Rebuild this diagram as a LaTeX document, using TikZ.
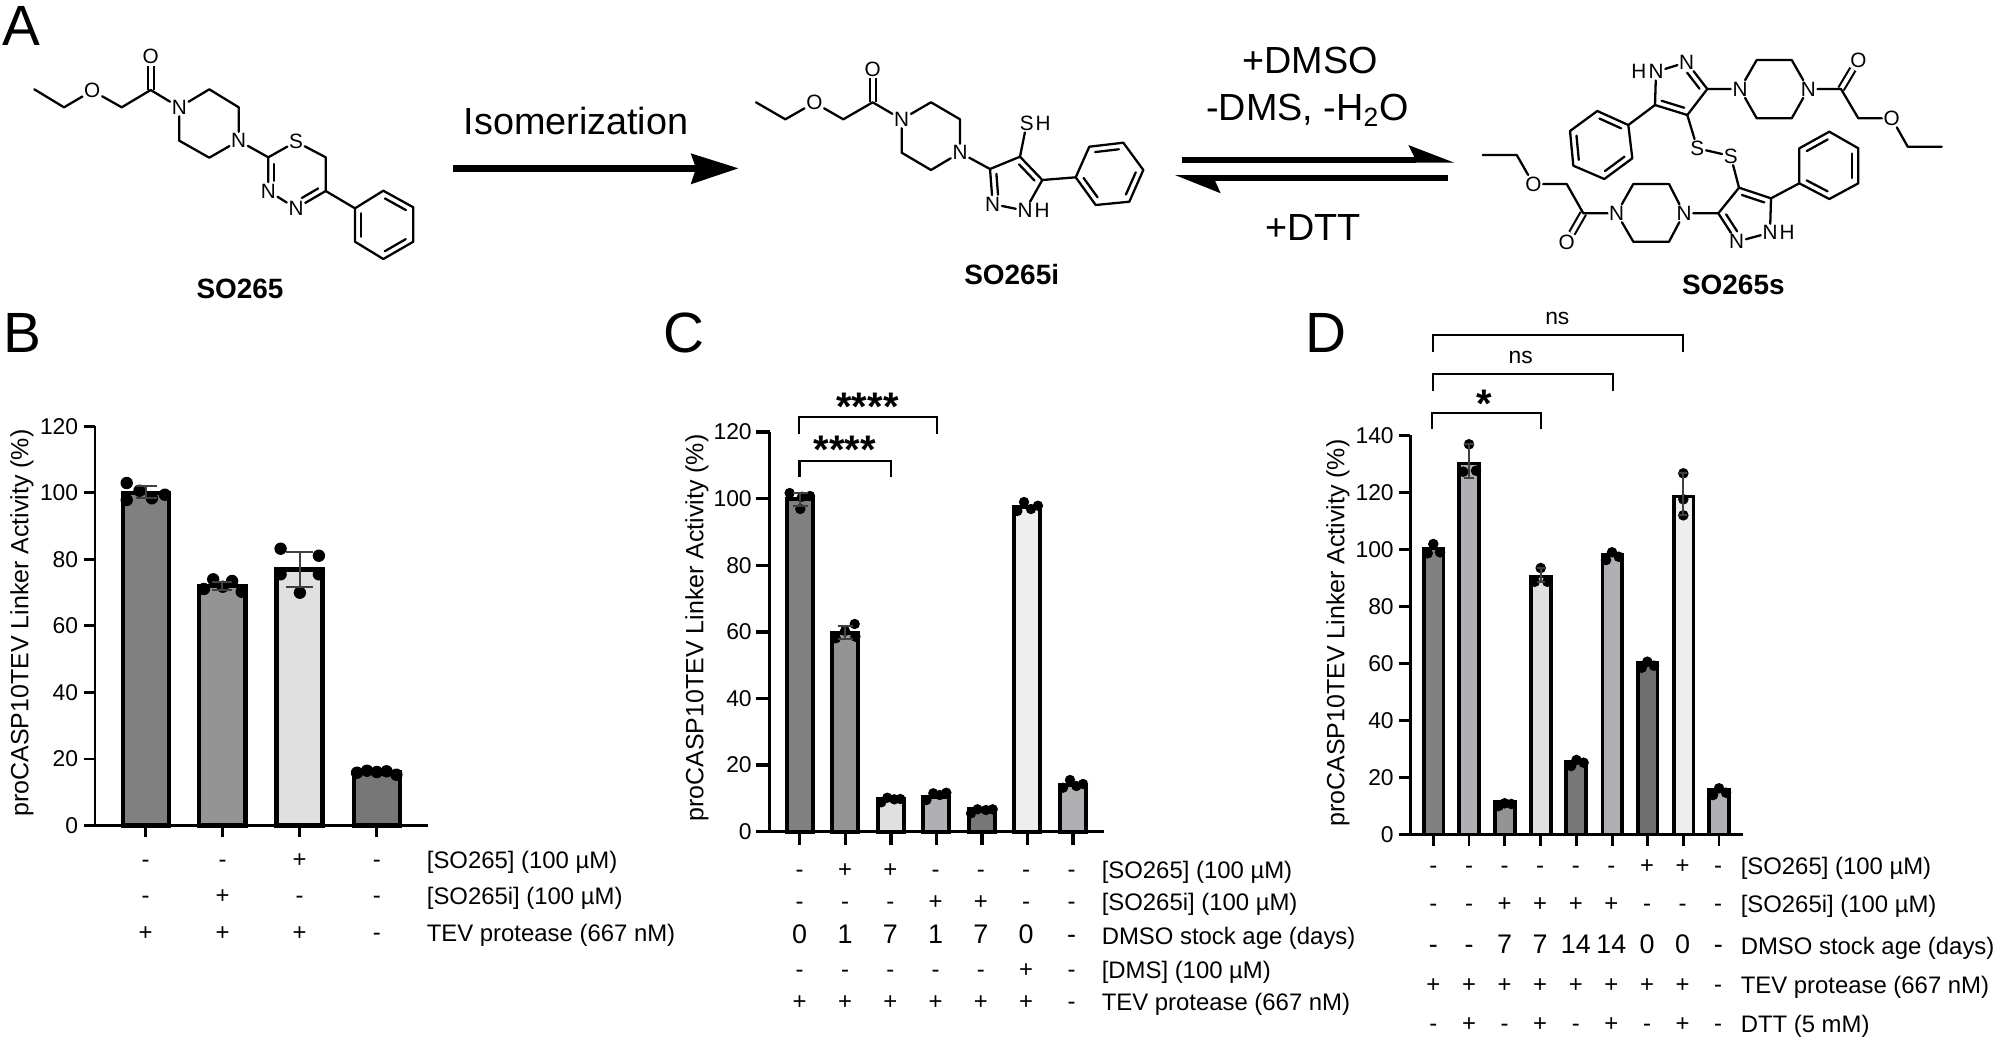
\documentclass[tikz,border=0pt]{standalone}
\usepackage{fontspec}
\setmainfont{Liberation Sans}
\usetikzlibrary{calc,positioning}
\definecolor{barA}{HTML}{808080}
\definecolor{barB}{HTML}{949494}
\definecolor{barC}{HTML}{E0E0E0}
\definecolor{barD}{HTML}{777777}
\definecolor{barE}{HTML}{B0B0B4}
\definecolor{barF}{HTML}{EEEEEE}
\definecolor{barG}{HTML}{6E6E6E}
\tikzset{
  panel/.style={anchor=base west,font=\fontsize{32.3}{36}\selectfont},
  rxn/.style={anchor=base,font=\fontsize{21.5}{25}\selectfont},
  cpd/.style={anchor=base,font=\fontsize{15.9}{18}\selectfont\bfseries},
  atom/.style={inner sep=0.8pt,font=\fontsize{11.8}{13}\selectfont},
  bond/.style={line width=1.3pt,line cap=round,line join=round},
  cobond/.style={line width=1.2pt,double,double distance=2.2pt},
  shaft/.style={line width=4pt},
  ticklab/.style={anchor=east,font=\fontsize{13}{15}\selectfont},
  ylab/.style={rotate=90,font=\fontsize{14.2}{16}\selectfont},
  rowlab/.style={anchor=base west,font=\fontsize{13.6}{16}\selectfont},
  cell/.style={anchor=base,font=\fontsize{13.6}{16}\selectfont},
  numcell/.style={anchor=base,font=\fontsize{15.3}{18}\selectfont},
  stars/.style={anchor=base,font=\fontsize{22.7}{26}\selectfont\bfseries},
  nslab/.style={font=\fontsize{13}{15}\selectfont},
  brack/.style={line width=1.3pt},
  errbar/.style={line width=1pt,black!75},
}
% double bond line on the left of #1 -> #2
\newcommand{\ringbond}[4]{\draw[bond] ($(#1)!#3!(#2)!1.2mm!90:(#2)$) -- ($(#2)!#4!(#1)!1.2mm!-90:(#1)$);}
\newcommand{\rowcells}[6]{\foreach \t [count=\i] in {#6} \node[#5] (#1\i) at ({#2+#3*(\i-1)},#4) {\t};}
\newcommand{\errmark}[4]{\draw[errbar] (#1,#2) -- (#1,#3) (#1-#4,#2) -- (#1+#4,#2) (#1-#4,#3) -- (#1+#4,#3);}
\begin{document}
\begin{tikzpicture}[x=0.02cm,y=0.02cm]
\tikzstyle{every node}+=[inner sep=0pt]
\useasboundingbox (0,0) rectangle (2000,-1042);
\node[panel] (pa) at (2,-45) {A};
\node[panel] (pb) at (3,-352) {B};
\node[panel] (pc) at (663,-352) {C};
\node[panel] (pd) at (1305,-352) {D};

% SO265
\foreach \n/\x/\y in {a1/34.3/-89.3,a2/64/-107.3,a4/121.7/-107.3,a5/150.7/-90,a8/209.3/-89.3,a9/238.7/-107.3,a11/209.3/-157.7,a12/179.3/-140.7,a13/268.3/-157.3,a15/325.7/-157.3,a16/325.7/-191,a19/355/-208.3,a20/383.3/-190.7,a21/413.3/-207.3,a22/413.3/-241.7,a23/383.3/-259,a24/355/-241.7}
  \coordinate (\n) at (\x,\y);
\foreach \n/\x/\y/\t in {a3/92.3/-90.7/O,a6/150.7/-56.7/O,a7/179.3/-107.3/N,a10/238.7/-140.7/N,a14/296/-141.7/S,a17/268.3/-191/N,a18/296/-208.3/N}
  \node[atom] (\n) at (\x,\y) {\t};
\draw[cobond] (a5) -- (a6);
\draw[bond] (a1) -- (a2) -- (a3) -- (a4) -- (a5) -- (a7) -- (a8) -- (a9) -- (a10) -- (a11) -- (a12) -- (a7);
\draw[bond] (a10) -- (a13) -- (a14) -- (a15) -- (a16) -- (a18) -- (a17) -- (a13);
\draw[bond] (a16) -- (a19) -- (a20) -- (a21) -- (a22) -- (a23) -- (a24) -- (a19);
\ringbond{a13}{a17}{0.2}{0.3}
\ringbond{a18}{a16}{0.3}{0.15}
\ringbond{a21}{a20}{0.15}{0.15}
\ringbond{a19}{a24}{0.15}{0.15}
\ringbond{a23}{a22}{0.15}{0.15}
\node[cpd] (so) at (240,-298) {SO265};

% isomerization arrow
\node[rxn] (iso) at (576,-134) {Isomerization};
\coordinate (isoa) at (453,-168.3);
\coordinate (isob) at (696,-168.3);
\draw[shaft] (isoa) -- (isob);
\fill (738.3,-168.3) -- (690.7,-153.3) -- (696,-168.3) -- (690.7,-184.3);

% SO265i
\foreach \n/\x/\y in {b1/756/-102.3,b2/785.3/-119.3,b4/843.3/-119.3,b5/872.7/-102.3,b8/931/-102.3,b9/960/-119.3,b11/931/-170,b12/901.7/-152.7,b13/990/-169,b14/1020/-156.7,b15/1042.3/-180,b19/1075.7/-177.3,b20/1089.3/-146.7,b21/1123.3/-142.7,b22/1143.3/-170,b23/1129.3/-201.7,b24/1095.7/-205}
  \coordinate (\n) at (\x,\y);
\foreach \n/\x/\y/\t in {b3/814.3/-102.7/O,b6/872.7/-69/O,b7/901.7/-119.3/N,b10/960/-152.7/N,b16/1026.7/-123.3/S,b17/1025/-210.7/N,b18/992.7/-204/N}
  \node[atom] (\n) at (\x,\y) {\t};
\node[atom,right=-0.8pt of b16] (b16h) {H};
\node[atom,right=-0.8pt of b17] (b17h) {H};
\draw[cobond] (b5) -- (b6);
\draw[bond] (b1) -- (b2) -- (b3) -- (b4) -- (b5) -- (b7) -- (b8) -- (b9) -- (b10) -- (b11) -- (b12) -- (b7);
\draw[bond] (b10) -- (b13) -- (b14) -- (b15) -- (b17) -- (b18) -- (b13);
\draw[bond] (b14) -- (b16);
\draw[bond] (b15) -- (b19) -- (b20) -- (b21) -- (b22) -- (b23) -- (b24) -- (b19);
\ringbond{b13}{b18}{0.15}{0.25}
\ringbond{b15}{b14}{0.15}{0.15}
\ringbond{b21}{b20}{0.15}{0.15}
\ringbond{b23}{b22}{0.15}{0.15}
\ringbond{b19}{b24}{0.15}{0.15}
\node[cpd] (soi) at (1011.7,-284) {SO265i};

% equilibrium arrows
\node[rxn] (dmso) at (1310,-73.3) {+DMSO};
\node[rxn] (dms) at (1307.3,-120.7) {-DMS, -H\textsubscript{2}O};
\node[rxn] (dtt) at (1313.3,-240.7) {+DTT};
\coordinate (eqa) at (1181.7,-160);
\coordinate (eqb) at (1416,-160);
\coordinate (eqc) at (1447.7,-177.7);
\coordinate (eqd) at (1213,-177.7);
\draw[line width=3.4pt] (eqa) -- (eqb);
\draw[line width=3.4pt] (eqc) -- (eqd);
\fill (1454.3,-162.7) -- (1408.3,-145) -- (1414.3,-157) -- (1414.3,-162.7);
\fill (1175,-175) -- (1220.7,-193.3) -- (1215,-180.7) -- (1215,-175);

% SO265s
\foreach \n/\x/\y in {c3/1707.3/-89,c4/1687.3/-115,c5/1655/-105,c7/1756.7/-60,c8/1791.7/-60,c10/1791.7/-118.3,c11/1756.7/-118.3,c12/1841/-89,c14/1858.3/-118.3,c16/1907.7/-146.7,c17/1941.7/-146.7,c20/1628.3/-125,c21/1597.3/-111,c22/1570/-131,c23/1573.3/-165.7,c24/1604.3/-179,c25/1632.3/-158.3,d3/1718.3/-213.3,d4/1739/-187.7,d5/1771/-198.3,d7/1669/-184,d8/1633.3/-184,d10/1633.3/-241.7,d11/1669/-241.7,d12/1583.3/-213.3,d14/1566.7/-184,d16/1516.7/-155,d17/1482.7/-155,d20/1799.3/-183.3,d21/1829.3/-199,d22/1858.3/-183.3,d23/1858.3/-148.3,d24/1829.3/-131.7,d25/1799.3/-148.3}
  \coordinate (\n) at (\x,\y);
\foreach \n/\x/\y/\t in {c1/1656/-71.7/N,c2/1686.7/-62.3/N,c6/1740/-89/N,c9/1808.3/-89/N,c13/1858.3/-60/O,c15/1891.7/-118.3/O,c18/1697.3/-148.3/S,d18/1730.7/-156/S,d1/1770/-232.7/N,d2/1736.7/-241.7/N,d6/1684/-213.3/N,d9/1616.7/-213.3/N,d13/1566.7/-242.3/O,d15/1533.3/-184/O}
  \node[atom] (\n) at (\x,\y) {\t};
\node[atom,left=-0.8pt of c1] (c1h) {H};
\node[atom,right=-0.8pt of d1] (d1h) {H};
\draw[cobond] (c12) -- (c13);
\draw[cobond] (d12) -- (d13);
\draw[bond] (c1) -- (c2) -- (c3) -- (c4) -- (c5) -- (c1);
\draw[bond] (c3) -- (c6) -- (c7) -- (c8) -- (c9) -- (c10) -- (c11) -- (c6);
\draw[bond] (c9) -- (c12) -- (c14) -- (c15) -- (c16) -- (c17);
\draw[bond] (c5) -- (c20) -- (c21) -- (c22) -- (c23) -- (c24) -- (c25) -- (c20);
\draw[bond] (c4) -- (c18) -- (d18) -- (d4);
\draw[bond] (d1) -- (d2) -- (d3) -- (d4) -- (d5) -- (d1);
\draw[bond] (d3) -- (d6) -- (d7) -- (d8) -- (d9) -- (d10) -- (d11) -- (d6);
\draw[bond] (d9) -- (d12) -- (d14) -- (d15) -- (d16) -- (d17);
\draw[bond] (d5) -- (d20) -- (d21) -- (d22) -- (d23) -- (d24) -- (d25) -- (d20);
\ringbond{c3}{c2}{0.15}{0.25}
\ringbond{c5}{c4}{0.15}{0.15}
\ringbond{c20}{c21}{0.15}{0.15}
\ringbond{c22}{c23}{0.15}{0.15}
\ringbond{c24}{c25}{0.15}{0.15}
\ringbond{d3}{d2}{0.15}{0.25}
\ringbond{d5}{d4}{0.15}{0.15}
\ringbond{d20}{d21}{0.15}{0.15}
\ringbond{d22}{d23}{0.15}{0.15}
\ringbond{d24}{d25}{0.15}{0.15}
\node[cpd] (sos) at (1733.3,-294) {SO265s};

% panel B
\foreach \x/\t/\c in {146/493/barA,222.3/585.7/barB,299.6/569.3/barC,376.8/772/barD}
  \draw[line width=2.5pt,fill=\c] ({\x-23},-825.5) rectangle ({\x+23},-\t);
\foreach \x/\y in {126.7/483,139.5/490.7,151.9/498.3,164.9/494.7,126.7/500,203.9/589,213.2/579.3,222.8/586.7,232.1/581,241.7/591.7,280.6/548.7,318.9/555.7,280.6/574.3,318.9/574.3,299.9/592.7,357/772.7,367/770.7,376.8/772,386.6/771.3,396.4/774.7}
  \fill (\x,-\y) circle (6.2);
\errmark{146}{-485.7}{-498}{10.5}
\errmark{222.3}{-581.7}{-590}{10}
\errmark{299.9}{-551.7}{-586.7}{13.5}
\draw[line width=1.6pt] (95,-426) -- (95,-825.5);
\draw[line width=1.6pt] (83.5,-825.5) -- (427.7,-825.5);
\foreach \v in {0,20,...,120} {
  \draw[line width=1.6pt] (83.5,{-825.5+3.327*\v}) -- (95,{-825.5+3.327*\v});
  \node[ticklab] (bt\v) at (78.5,{-825.5+3.327*\v}) {\v};
}
\foreach \x in {145.5,222.3,299.6,376.8}
  \draw[line width=1.6pt] (\x,-825.5) -- (\x,-837);
\node[ylab] (by) at (22,-623) {proCASP10TEV Linker Activity (\%)};
\rowcells{ba}{145.5}{77.1}{-867.2}{cell}{-,-,+,-}
\rowcells{bb}{145.5}{77.1}{-903.8}{cell}{-,+,-,-}
\rowcells{bc}{145.5}{77.1}{-940.8}{cell}{+,+,+,-}
\node[rowlab] (bla) at (426.5,-868.2) {[SO265] (100 µM)};
\node[rowlab] (blb) at (426.5,-904.8) {[SO265i] (100 µM)};
\node[rowlab] (blc) at (426.5,-941.8) {TEV protease (667 nM)};

% panel C
\foreach \x/\t/\c in {800/498.7/barA,845.3/632.7/barB,890.8/798.7/barC,936.3/796.7/barE,981.9/809/barD,1027.4/506.7/barF,1073/785/barE}
  \draw[line width=2.3pt,fill=\c] ({\x-13},-831.7) rectangle ({\x+13},-\t);
\foreach \x/\y in {789.6/493,800.3/509,810/496,802/496.7,835.8/638.3,845/631,854.7/624,855.4/636.7,881.3/802.3,887.3/797.7,894.3/799.3,900.3/799,926.4/800,933.3/793.3,939.8/795,946.3/792.7,971/813.3,977.5/809.3,986/810,992.7/809.3,1017.3/511,1024/502,1031/509,1037.9/505.7,1063/787.7,1070/780,1076.4/786,1083/784}
  \fill (\x,-\y) circle (5.2);
\errmark{800}{-493}{-505.7}{7.5}
\errmark{845}{-625.7}{-638.7}{7.5}
\draw[line width=2pt] (769.6,-432) -- (769.6,-831.7);
\draw[line width=2pt] (756,-831.7) -- (1104,-831.7);
\foreach \v in {0,20,...,120} {
  \draw[line width=2pt] (756,{-831.7+3.33*\v}) -- (769.6,{-831.7+3.33*\v});
  \node[ticklab] (ct\v) at (752,{-831.7+3.33*\v}) {\v};
}
\foreach \x in {799.7,845.3,890.8,936.3,981.9,1027.4,1073}
  \draw[line width=2pt] (\x,-831.7) -- (\x,-845.3);
\node[ylab] (cy) at (697,-628) {proCASP10TEV Linker Activity (\%)};
\draw[brack] (799,-434.3) -- (799,-417.3) -- (936.7,-417.3) -- (936.7,-434.3);
\draw[brack] (799.6,-476.7) -- (799.6,-460.7) -- (890.9,-460.7) -- (890.9,-476.7);
\node[stars] (cs1) at (867.5,-420.7) {****};
\node[stars] (cs2) at (845,-463) {****};
\rowcells{ca}{799.7}{45.3}{-877.2}{cell}{-,+,+,-,-,-,-}
\rowcells{cb}{799.7}{45.3}{-909.8}{cell}{-,-,-,+,+,-,-}
\rowcells{cc}{799.7}{45.3}{-943.2}{numcell}{0,1,7,1,7,0,-}
\rowcells{cd}{799.7}{45.3}{-977.2}{cell}{-,-,-,-,-,+,-}
\rowcells{ce}{799.7}{45.3}{-1009.2}{cell}{+,+,+,+,+,+,-}
\node[rowlab] (cla) at (1101.4,-878.2) {[SO265] (100 µM)};
\node[rowlab] (clb) at (1101.4,-910.8) {[SO265i] (100 µM)};
\node[rowlab] (clc) at (1101.4,-944.2) {DMSO stock age (days)};
\node[rowlab] (cld) at (1101.4,-978.2) {[DMS] (100 µM)};
\node[rowlab] (cle) at (1101.4,-1010.2) {TEV protease (667 nM)};

% panel D
\foreach \x/\t/\c in {1433.7/548.3/barA,1469/463.3/barE,1505/801.7/barB,1541/576.7/barC,1576/761.7/barD,1612.3/555/barE,1647.7/662.7/barG,1683.7/496.7/barF,1719/790/barE}
  \draw[line width=2pt,fill=\c] ({\x-9.8},-834.3) rectangle ({\x+9.8},-\t);
\foreach \x/\y in {1427.7/553.3,1433.3/544,1440/552.3,1463.3/471.7,1469/444.3,1476/470.7,1498.6/806,1504.6/803.3,1511.3/804,1534.7/581.7,1540.7/568,1547.3/581.7,1571/766,1576.5/760,1583.6/762.7,1606/560,1612/552.3,1618.7/556.7,1641.7/667.7,1647.3/661.7,1654/665.7,1683.3/473.3,1683.3/499.3,1683.3/515.3,1713/795,1719/788.3,1726/792.7}
  \fill (\x,-\y) circle (5.3);
\errmark{1469}{-444.3}{-478.3}{5}
\errmark{1540.7}{-568}{-581.7}{4}
\errmark{1683.3}{-473.3}{-515.3}{4}
\draw[line width=1.4pt] (1410.3,-435.3) -- (1410.3,-834.3);
\draw[line width=1.4pt] (1399,-834.3) -- (1743,-834.3);
\foreach \v in {0,20,...,140} {
  \draw[line width=1.4pt] (1399,{-834.3+2.85*\v}) -- (1410.3,{-834.3+2.85*\v});
  \node[ticklab] (dt\v) at (1394,{-834.3+2.85*\v}) {\v};
}
\foreach \x in {1433.4,1469,1504.6,1540.1,1576.1,1612.1,1647.7,1683.3,1718.9}
  \draw[line width=1.6pt] (\x,-834.3) -- (\x,-845.7);
\node[ylab] (dy) at (1338,-633) {proCASP10TEV Linker Activity (\%)};
\draw[brack] (1433,-352.3) -- (1433,-335) -- (1683.3,-335) -- (1683.3,-352.3);
\draw[brack] (1433,-390.7) -- (1433,-374) -- (1613.3,-374) -- (1613.3,-390.7);
\draw[brack] (1432,-429) -- (1432,-412.7) -- (1540.7,-412.7) -- (1540.7,-429);
\node[nslab] (dn1) at (1557.3,-318.3) {ns};
\node[nslab] (dn2) at (1520.7,-357.3) {ns};
\node[stars] (ds1) at (1484,-417.3) {*};
\rowcells{da}{1433.4}{35.6}{-873.2}{cell}{-,-,-,-,-,-,+,+,-}
\rowcells{db}{1433.4}{35.6}{-911.8}{cell}{-,-,+,+,+,+,-,-,-}
\rowcells{dc}{1433.4}{35.6}{-953.2}{numcell}{-,-,7,7,14,14,0,0,-}
\rowcells{dd}{1433.4}{35.6}{-992.5}{cell}{+,+,+,+,+,+,+,+,-}
\rowcells{de}{1433.4}{35.6}{-1031.5}{cell}{-,+,-,+,-,+,-,+,-}
\node[rowlab] (dla) at (1740.4,-874.2) {[SO265] (100 µM)};
\node[rowlab] (dlb) at (1740.4,-912.8) {[SO265i] (100 µM)};
\node[rowlab] (dlc) at (1740.4,-954.2) {DMSO stock age (days)};
\node[rowlab] (dld) at (1740.4,-993.5) {TEV protease (667 nM)};
\node[rowlab] (dle) at (1740.4,-1032.5) {DTT (5 mM)};
\end{tikzpicture}
\end{document}
